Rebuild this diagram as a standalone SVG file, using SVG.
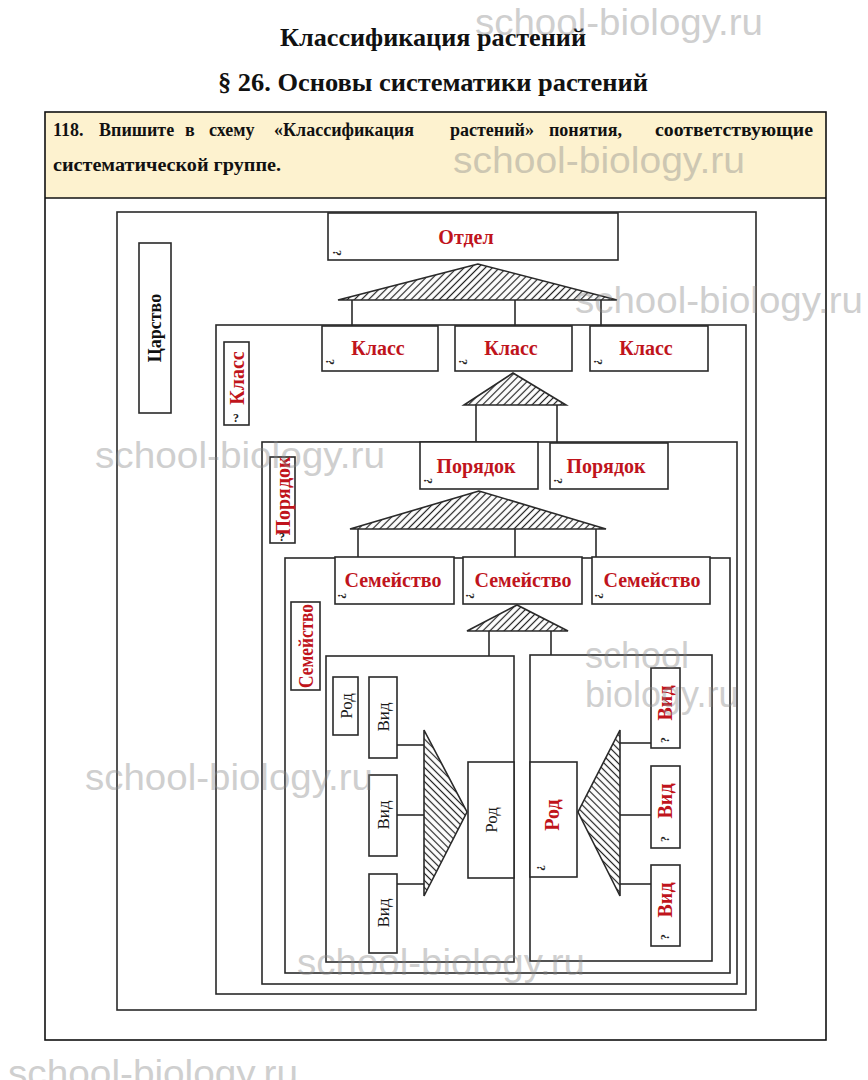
<svg xmlns="http://www.w3.org/2000/svg" width="868" height="1080" viewBox="0 0 868 1080">
<defs>
<pattern id="hatch" patternUnits="userSpaceOnUse" width="5" height="10" patternTransform="rotate(45)">
<line x1="2.5" y1="0" x2="2.5" y2="10" stroke="#222" stroke-width="1.2"/>
</pattern>
<pattern id="hatch2" patternUnits="userSpaceOnUse" width="5" height="10" patternTransform="rotate(-45)">
<line x1="2.5" y1="0" x2="2.5" y2="10" stroke="#222" stroke-width="1.2"/>
</pattern>
<style>
.ln{fill:none;stroke:#2a2a2a;stroke-width:1.6}
.bx{fill:#fff;stroke:#2a2a2a;stroke-width:1.6}
.tri{fill:url(#hatch);stroke:#2a2a2a;stroke-width:1.6}
.tri2{fill:url(#hatch2);stroke:#2a2a2a;stroke-width:1.6}
.t{font-family:"Liberation Serif","Times New Roman",serif}
.h{font-weight:bold;fill:#111}
.red{fill:#c0141c;font-weight:bold;font-size:20px}
.blk{fill:#1a1a1a;font-size:17px}
.q{font-size:12px;fill:#222;font-weight:bold}
.wm{font-family:"Liberation Sans",Arial,sans-serif;font-size:36px;fill:#888;opacity:.4}
</style>
</defs>
<rect width="868" height="1080" fill="#fff"/>

<g id="header">
<text class="t h" x="433" y="46" font-size="26" text-anchor="middle" textLength="306" lengthAdjust="spacingAndGlyphs">Классификация растений</text>
<text class="t h" x="433" y="91" font-size="26" text-anchor="middle" textLength="430" lengthAdjust="spacingAndGlyphs">§ 26. Основы систематики растений</text>
<rect x="45" y="112" width="781" height="86" fill="#fdf2cf"/>
<rect x="45" y="112" width="781" height="928" fill="none" stroke="#111" stroke-width="1.6"/>
<line x1="45" y1="198" x2="826" y2="198" stroke="#111" stroke-width="1.6"/>
<g class="t h" font-size="18">
<text x="53" y="136">118.</text>
<text x="99" y="136">Впишите</text>
<text x="185" y="136">в</text>
<text x="209" y="136">схему</text>
<text x="274" y="136">«Классификация</text>
<text x="450" y="136">растений»</text>
<text x="549" y="136">понятия,</text>
<text x="655" y="136" textLength="158" lengthAdjust="spacingAndGlyphs">соответствующие</text>
<text x="53" y="171" textLength="228" lengthAdjust="spacingAndGlyphs">систематической группе.</text>
</g>
</g>

<g id="frames">
<rect class="ln" x="117" y="212" width="639" height="798"/>
<rect class="ln" x="216" y="325" width="530" height="669"/>
<rect class="ln" x="262" y="442" width="475" height="542"/>
<rect class="ln" x="285" y="558" width="445" height="415"/>
<rect class="ln" x="326" y="656" width="188" height="306"/>
<rect class="ln" x="530" y="655" width="182" height="306"/>
</g>

<g id="connectors">
<line class="ln" x1="352" y1="300" x2="352" y2="326"/>
<line class="ln" x1="515" y1="300" x2="515" y2="326"/>
<line class="ln" x1="601" y1="300" x2="601" y2="326"/>
<line class="ln" x1="476" y1="405" x2="476" y2="442"/>
<line class="ln" x1="557" y1="405" x2="557" y2="443"/>
<line class="ln" x1="358" y1="529" x2="358" y2="557"/>
<line class="ln" x1="515" y1="529" x2="515" y2="557"/>
<line class="ln" x1="596" y1="529" x2="596" y2="557"/>
<line class="ln" x1="489" y1="631" x2="489" y2="656"/>
<line class="ln" x1="551" y1="631" x2="551" y2="655"/>
<line class="ln" x1="397" y1="745" x2="424" y2="745"/>
<line class="ln" x1="397" y1="815" x2="424" y2="815"/>
<line class="ln" x1="397" y1="884" x2="424" y2="884"/>
<line class="ln" x1="620" y1="743" x2="651" y2="743"/>
<line class="ln" x1="620" y1="815" x2="651" y2="815"/>
<line class="ln" x1="620" y1="884" x2="651" y2="884"/>
</g>

<g id="triangles">
<polygon class="tri" points="478,264 338,300 617,300"/>
<polygon class="tri" points="513,373 464,405 566,405"/>
<polygon class="tri" points="479,491 350,529 606,529"/>
<polygon class="tri" points="517,605 467,631 568,631"/>
<polygon class="tri2" points="424,730 467,812 424,896"/>
<polygon class="tri2" points="620,730 578,812 620,896"/>
</g>

<g id="tsarstvo">
<rect class="bx" x="139" y="243" width="32" height="170"/>
<text class="t h" font-size="18" transform="translate(155,328) rotate(-90)" text-anchor="middle" dy="0.35em">Царство</text>
</g>

<g id="otdel">
<rect class="bx" x="328" y="213" width="290" height="47"/>
<text class="t red" x="466" y="244" text-anchor="middle">Отдел</text>
<text class="t q" transform="translate(337,253) rotate(90)" text-anchor="middle" dy="0.35em">?</text>
</g>

<g id="klass-label">
<rect class="bx" x="224" y="342" width="25" height="83"/>
<text class="t red" font-size="17" transform="translate(237,378) rotate(-90)" text-anchor="middle" dy="0.35em">Класс</text>
<text class="t q" x="236" y="422" text-anchor="middle">?</text>
</g>
<g id="klass1">
<rect class="bx" x="322" y="326" width="116" height="45"/>
<text class="t red" x="378" y="355" text-anchor="middle">Класс</text>
<text class="t q" transform="translate(330,362) rotate(90)" text-anchor="middle" dy="0.35em">?</text>
</g>
<g id="klass2">
<rect class="bx" x="455" y="326" width="117" height="45"/>
<text class="t red" x="511" y="355" text-anchor="middle">Класс</text>
<text class="t q" transform="translate(463,362) rotate(90)" text-anchor="middle" dy="0.35em">?</text>
</g>
<g id="klass3">
<rect class="bx" x="590" y="326" width="118" height="45"/>
<text class="t red" x="646" y="355" text-anchor="middle">Класс</text>
<text class="t q" transform="translate(598,362) rotate(90)" text-anchor="middle" dy="0.35em">?</text>
</g>

<g id="poryadok-label">
<rect class="bx" x="270" y="457" width="25" height="86"/>
<text class="t red" font-size="15" transform="translate(283,496) rotate(-90)" text-anchor="middle" dy="0.35em">Порядок</text>
<text class="t q" x="282" y="541" text-anchor="middle">?</text>
</g>
<g id="poryadok1">
<rect class="bx" x="420" y="442" width="118" height="47"/>
<text class="t red" x="476" y="473" text-anchor="middle">Порядок</text>
<text class="t q" transform="translate(428,481) rotate(90)" text-anchor="middle" dy="0.35em">?</text>
</g>
<g id="poryadok2">
<rect class="bx" x="550" y="443" width="118" height="46"/>
<text class="t red" x="606" y="473" text-anchor="middle">Порядок</text>
<text class="t q" transform="translate(558,481) rotate(90)" text-anchor="middle" dy="0.35em">?</text>
</g>

<g id="semeystvo-label">
<rect class="bx" x="291" y="602" width="29" height="88"/>
<text class="t red" font-size="16" transform="translate(306,646) rotate(-90)" text-anchor="middle" dy="0.35em" textLength="84" lengthAdjust="spacingAndGlyphs">Семейство</text>
</g>
<g id="semeystvo1">
<rect class="bx" x="335" y="557" width="119" height="47"/>
<text class="t red" x="393" y="587" text-anchor="middle">Семейство</text>
<text class="t q" transform="translate(342,596) rotate(90)" text-anchor="middle" dy="0.35em">?</text>
</g>
<g id="semeystvo2">
<rect class="bx" x="463" y="557" width="119" height="47"/>
<text class="t red" x="523" y="587" text-anchor="middle">Семейство</text>
<text class="t q" transform="translate(470,596) rotate(90)" text-anchor="middle" dy="0.35em">?</text>
</g>
<g id="semeystvo3">
<rect class="bx" x="592" y="557" width="118" height="47"/>
<text class="t red" x="652" y="587" text-anchor="middle">Семейство</text>
<text class="t q" transform="translate(599,596) rotate(90)" text-anchor="middle" dy="0.35em">?</text>
</g>

<g id="rod-left-small">
<rect class="bx" x="333" y="677" width="25" height="58"/>
<text class="t blk" transform="translate(346,706) rotate(-90)" text-anchor="middle" dy="0.35em">Род</text>
</g>
<g id="vid-left-1">
<rect class="bx" x="369" y="677" width="28" height="81"/>
<text class="t blk" transform="translate(383,717) rotate(-90)" text-anchor="middle" dy="0.35em">Вид</text>
</g>
<g id="vid-left-2">
<rect class="bx" x="369" y="775" width="28" height="81"/>
<text class="t blk" transform="translate(383,815) rotate(-90)" text-anchor="middle" dy="0.35em">Вид</text>
</g>
<g id="vid-left-3">
<rect class="bx" x="369" y="874" width="28" height="79"/>
<text class="t blk" transform="translate(383,913) rotate(-90)" text-anchor="middle" dy="0.35em">Вид</text>
</g>
<g id="rod-left">
<rect class="bx" x="468" y="762" width="46" height="116"/>
<text class="t blk" transform="translate(491,820) rotate(-90)" text-anchor="middle" dy="0.35em">Род</text>
</g>

<g id="rod-right">
<rect class="bx" x="530" y="762" width="47" height="115"/>
<text class="t red" font-size="18" transform="translate(552,815) rotate(-90)" text-anchor="middle" dy="0.35em">Род</text>
<text class="t q" transform="translate(541,868) rotate(90)" text-anchor="middle" dy="0.35em">?</text>
</g>
<g id="vid-right-1">
<rect class="bx" x="651" y="668" width="29" height="80"/>
<text class="t red" font-size="18" transform="translate(665,703) rotate(-90)" text-anchor="middle" dy="0.35em">Вид</text>
<text class="t q" transform="translate(665,740) rotate(-90)" text-anchor="middle" dy="0.35em">?</text>
</g>
<g id="vid-right-2">
<rect class="bx" x="651" y="766" width="29" height="82"/>
<text class="t red" font-size="18" transform="translate(665,801) rotate(-90)" text-anchor="middle" dy="0.35em">Вид</text>
<text class="t q" transform="translate(665,839) rotate(-90)" text-anchor="middle" dy="0.35em">?</text>
</g>
<g id="vid-right-3">
<rect class="bx" x="651" y="865" width="29" height="81"/>
<text class="t red" font-size="18" transform="translate(665,900) rotate(-90)" text-anchor="middle" dy="0.35em">Вид</text>
<text class="t q" transform="translate(665,937) rotate(-90)" text-anchor="middle" dy="0.35em">?</text>
</g>

<g id="watermarks" class="wm">
<text x="475" y="35" textLength="288" lengthAdjust="spacingAndGlyphs">school-biology.ru</text>
<text x="453" y="173" textLength="292" lengthAdjust="spacingAndGlyphs">school-biology.ru</text>
<text x="575" y="313" textLength="288" lengthAdjust="spacingAndGlyphs">school-biology.ru</text>
<text x="95" y="468" textLength="290" lengthAdjust="spacingAndGlyphs">school-biology.ru</text>
<text x="585" y="668">school</text>
<text x="585" y="707">biology.ru</text>
<text x="85" y="790" textLength="288" lengthAdjust="spacingAndGlyphs">school-biology.ru</text>
<text x="297" y="975" textLength="288" lengthAdjust="spacingAndGlyphs">school-biology.ru</text>
<text x="8" y="1086" textLength="290" lengthAdjust="spacingAndGlyphs">school-biology.ru</text>
</g>
</svg>
